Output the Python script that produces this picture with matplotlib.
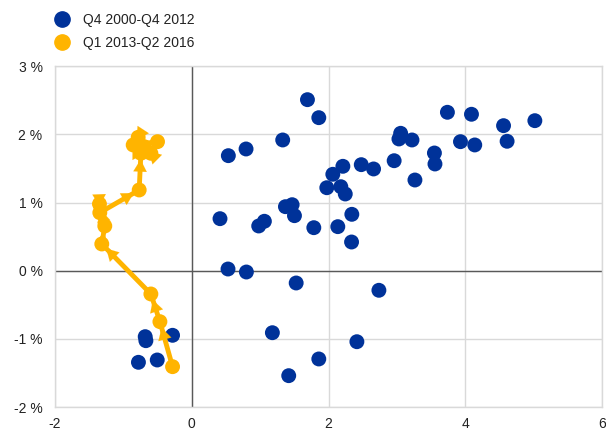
import matplotlib
matplotlib.use("Agg")
import matplotlib.pyplot as plt
from matplotlib.lines import Line2D

plt.rcParams['font.family'] = ['Liberation Sans', 'DejaVu Sans']

# Q4 2000 - Q4 2012
blue_x = [1.692, 1.858, 1.330, 0.794, 0.535, 0.413, 0.979, 1.062, 1.370, 1.468,
          1.502, 1.785, 2.136, 2.341, 2.337, 1.975, 2.063, 2.180, 2.245, 2.210,
          2.479, 2.659, 2.960, 3.055, 3.030, 3.221, 3.264, 3.549, 3.557, 3.739,
          4.091, 3.930, 4.139, 4.560, 4.612, 5.018, 0.530, 0.799, 1.527, 2.737,
          1.179, 2.415, 1.858, 1.418, -0.681, -0.671, -0.281, -0.780, -0.505]
blue_y = [2.509, 2.245, 1.918, 1.786, 1.688, 0.764, 0.657, 0.726, 0.940, 0.969,
          0.808, 0.632, 0.647, 0.828, 0.422, 1.218, 1.415, 1.233, 1.126, 1.532,
          1.556, 1.493, 1.614, 2.016, 1.933, 1.918, 1.331, 1.727, 1.566, 2.324,
          2.295, 1.893, 1.845, 2.128, 1.899, 2.201, 0.026, -0.018, -0.179, -0.286,
          -0.908, -1.040, -1.293, -1.538, -0.966, -1.025, -0.946, -1.342, -1.308]

# Q1 2013 - Q2 2016 (chronological path)
yel_x = [-0.281, -0.466, -0.598, -1.316, -1.272, -1.350, -1.345, -0.769,
         -0.744, -0.598, -0.696, -0.784, -0.857, -0.501]
yel_y = [-1.406, -0.746, -0.340, 0.393, 0.657, 0.980, 0.852, 1.185,
         1.723, 1.723, 1.820, 1.957, 1.845, 1.893]

x_ticks = [-2, 0, 2, 4, 6]
y_ticks = [-2, -1, 0, 1, 2, 3]
y_labels = ['-2 %', '-1 %', '0 %', '1 %', '2 %', '3 %']

BLUE = '#003299'
YELLOW = '#FFB400'
GRID = '#D9D9D9'
ZERO = '#595959'

fig = plt.figure(figsize=(6.06, 4.34), dpi=100)
ax = fig.add_axes([0.0908, 0.0618, 0.9026, 0.7857])
ax.set_xlim(-2, 6)
ax.set_ylim(-2, 3)

ax.set_xticks(x_ticks)
ax.set_xticklabels([str(t) for t in x_ticks])
ax.set_yticks(y_ticks)
ax.set_yticklabels(y_labels)
ax.tick_params(length=0, labelsize=10, colors='#222222')
ax.tick_params(axis='y', pad=9)
ax.tick_params(axis='x', pad=7)

ax.grid(True, color=GRID, lw=1, zorder=0)
ax.set_axisbelow(True)
for s in ax.spines.values():
    s.set_color(GRID)
    s.set_linewidth(1)
ax.axhline(0, color=ZERO, lw=1, zorder=1)
ax.axvline(0, color=ZERO, lw=1, zorder=1)

ax.scatter(blue_x, blue_y, s=115, color=BLUE, edgecolors='none', zorder=3)

ax.plot(yel_x, yel_y, color=YELLOW, lw=3.5, zorder=4, solid_capstyle='round')
ax.scatter(yel_x, yel_y, s=115, color=YELLOW, edgecolors='none', zorder=5)
for i in range(len(yel_x) - 1):
    ax.annotate('', xy=(yel_x[i + 1], yel_y[i + 1]), xytext=(yel_x[i], yel_y[i]),
                arrowprops=dict(arrowstyle='-|>,head_length=0.43,head_width=0.24',
                                color=YELLOW, lw=0.1, shrinkA=0, shrinkB=4.5,
                                mutation_scale=20),
                zorder=6)

handles = [Line2D([], [], marker='o', ls='none', color=BLUE, markersize=11),
           Line2D([], [], marker='o', ls='none', color=YELLOW, markersize=11)]
fig.legend(handles, ['Q4 2000-Q4 2012', 'Q1 2013-Q2 2016'], loc='upper left',
           bbox_to_anchor=(0.075, 0.99), frameon=False, fontsize=10,
           handletextpad=0.9, labelspacing=0.65, handlelength=1.2,
           borderaxespad=0.2, labelcolor='#222222')

fig.savefig('out.png', dpi=100)
